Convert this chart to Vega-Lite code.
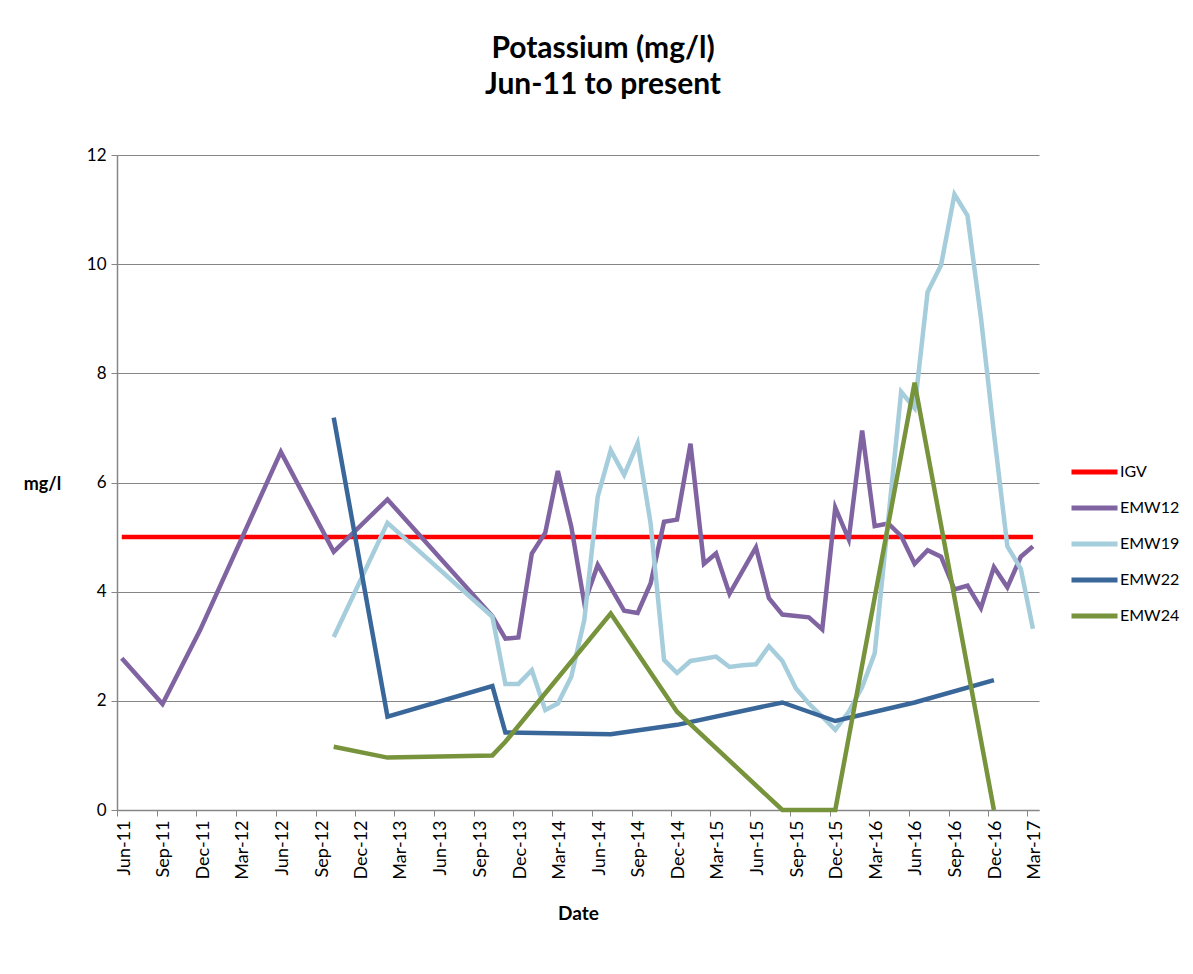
{
  "$schema": "https://vega.github.io/schema/vega-lite/v6.json",
  "width": 922,
  "height": 655,
  "autosize": "none",
  "padding": {"left": 117, "top": 155, "right": 154, "bottom": 164},
  "background": "white",
  "title": {
    "text": ["Potassium (mg/l)", "Jun-11 to present"],
    "font": "Lato",
    "fontSize": 30,
    "fontWeight": "bold",
    "color": "#000000",
    "anchor": "middle",
    "dx": 25,
    "offset": 46,
    "lineHeight": 36
  },
  "config": {
    "view": {"stroke": null},
    "axis": {"labelFont": "Lato", "titleFont": "Lato", "labelColor": "#000000", "titleColor": "#000000"}
  },
  "data": {
    "values": [
      {"series": "IGV", "date": "2011-06-12T00:00:00", "value": 5},
      {"series": "IGV", "date": "2017-03-14T00:00:00", "value": 5},
      {"series": "EMW12", "date": "2011-06-12T00:00:00", "value": 2.78},
      {"series": "EMW12", "date": "2011-09-14T00:00:00", "value": 1.94},
      {"series": "EMW12", "date": "2011-12-10T00:00:00", "value": 3.30},
      {"series": "EMW12", "date": "2012-06-13T00:00:00", "value": 6.56},
      {"series": "EMW12", "date": "2012-10-13T00:00:00", "value": 4.73},
      {"series": "EMW12", "date": "2013-02-14T00:00:00", "value": 5.69},
      {"series": "EMW12", "date": "2013-10-14T00:00:00", "value": 3.55},
      {"series": "EMW12", "date": "2013-11-13T00:00:00", "value": 3.14},
      {"series": "EMW12", "date": "2013-12-13T00:00:00", "value": 3.16},
      {"series": "EMW12", "date": "2014-01-13T00:00:00", "value": 4.70},
      {"series": "EMW12", "date": "2014-02-13T00:00:00", "value": 5.08},
      {"series": "EMW12", "date": "2014-03-14T00:00:00", "value": 6.21},
      {"series": "EMW12", "date": "2014-04-14T00:00:00", "value": 5.19},
      {"series": "EMW12", "date": "2014-05-14T00:00:00", "value": 3.79},
      {"series": "EMW12", "date": "2014-06-14T00:00:00", "value": 4.49},
      {"series": "EMW12", "date": "2014-08-14T00:00:00", "value": 3.65},
      {"series": "EMW12", "date": "2014-09-14T00:00:00", "value": 3.61},
      {"series": "EMW12", "date": "2014-10-14T00:00:00", "value": 4.15},
      {"series": "EMW12", "date": "2014-11-14T00:00:00", "value": 5.28},
      {"series": "EMW12", "date": "2014-12-14T00:00:00", "value": 5.32},
      {"series": "EMW12", "date": "2015-01-14T00:00:00", "value": 6.71},
      {"series": "EMW12", "date": "2015-02-14T00:00:00", "value": 4.51},
      {"series": "EMW12", "date": "2015-03-14T00:00:00", "value": 4.70},
      {"series": "EMW12", "date": "2015-04-14T00:00:00", "value": 3.96},
      {"series": "EMW12", "date": "2015-06-14T00:00:00", "value": 4.81},
      {"series": "EMW12", "date": "2015-07-14T00:00:00", "value": 3.88},
      {"series": "EMW12", "date": "2015-08-14T00:00:00", "value": 3.58},
      {"series": "EMW12", "date": "2015-10-14T00:00:00", "value": 3.53},
      {"series": "EMW12", "date": "2015-11-14T00:00:00", "value": 3.31},
      {"series": "EMW12", "date": "2015-12-14T00:00:00", "value": 5.54},
      {"series": "EMW12", "date": "2016-01-14T00:00:00", "value": 4.96},
      {"series": "EMW12", "date": "2016-02-14T00:00:00", "value": 6.95},
      {"series": "EMW12", "date": "2016-03-14T00:00:00", "value": 5.20},
      {"series": "EMW12", "date": "2016-04-14T00:00:00", "value": 5.25},
      {"series": "EMW12", "date": "2016-05-14T00:00:00", "value": 5.02},
      {"series": "EMW12", "date": "2016-06-14T00:00:00", "value": 4.51},
      {"series": "EMW12", "date": "2016-07-14T00:00:00", "value": 4.76},
      {"series": "EMW12", "date": "2016-08-14T00:00:00", "value": 4.64},
      {"series": "EMW12", "date": "2016-09-14T00:00:00", "value": 4.04},
      {"series": "EMW12", "date": "2016-10-14T00:00:00", "value": 4.11},
      {"series": "EMW12", "date": "2016-11-14T00:00:00", "value": 3.70},
      {"series": "EMW12", "date": "2016-12-14T00:00:00", "value": 4.45},
      {"series": "EMW12", "date": "2017-01-14T00:00:00", "value": 4.08},
      {"series": "EMW12", "date": "2017-02-14T00:00:00", "value": 4.64},
      {"series": "EMW12", "date": "2017-03-14T00:00:00", "value": 4.83},
      {"series": "EMW19", "date": "2012-10-13T00:00:00", "value": 3.17},
      {"series": "EMW19", "date": "2013-02-14T00:00:00", "value": 5.26},
      {"series": "EMW19", "date": "2013-10-14T00:00:00", "value": 3.54},
      {"series": "EMW19", "date": "2013-11-13T00:00:00", "value": 2.31},
      {"series": "EMW19", "date": "2013-12-13T00:00:00", "value": 2.31},
      {"series": "EMW19", "date": "2014-01-13T00:00:00", "value": 2.56},
      {"series": "EMW19", "date": "2014-02-13T00:00:00", "value": 1.83},
      {"series": "EMW19", "date": "2014-03-14T00:00:00", "value": 1.95},
      {"series": "EMW19", "date": "2014-04-14T00:00:00", "value": 2.44},
      {"series": "EMW19", "date": "2014-05-14T00:00:00", "value": 3.48},
      {"series": "EMW19", "date": "2014-06-14T00:00:00", "value": 5.74},
      {"series": "EMW19", "date": "2014-07-14T00:00:00", "value": 6.59},
      {"series": "EMW19", "date": "2014-08-14T00:00:00", "value": 6.14},
      {"series": "EMW19", "date": "2014-09-14T00:00:00", "value": 6.72},
      {"series": "EMW19", "date": "2014-10-14T00:00:00", "value": 5.25},
      {"series": "EMW19", "date": "2014-11-14T00:00:00", "value": 2.75},
      {"series": "EMW19", "date": "2014-12-14T00:00:00", "value": 2.51},
      {"series": "EMW19", "date": "2015-01-14T00:00:00", "value": 2.73},
      {"series": "EMW19", "date": "2015-02-14T00:00:00", "value": 2.77},
      {"series": "EMW19", "date": "2015-03-14T00:00:00", "value": 2.81},
      {"series": "EMW19", "date": "2015-04-14T00:00:00", "value": 2.62},
      {"series": "EMW19", "date": "2015-05-14T00:00:00", "value": 2.65},
      {"series": "EMW19", "date": "2015-06-14T00:00:00", "value": 2.67},
      {"series": "EMW19", "date": "2015-07-14T00:00:00", "value": 3.00},
      {"series": "EMW19", "date": "2015-08-14T00:00:00", "value": 2.73},
      {"series": "EMW19", "date": "2015-09-14T00:00:00", "value": 2.23},
      {"series": "EMW19", "date": "2015-10-14T00:00:00", "value": 1.95},
      {"series": "EMW19", "date": "2015-11-14T00:00:00", "value": 1.71},
      {"series": "EMW19", "date": "2015-12-14T00:00:00", "value": 1.47},
      {"series": "EMW19", "date": "2016-01-14T00:00:00", "value": 1.80},
      {"series": "EMW19", "date": "2016-02-14T00:00:00", "value": 2.25},
      {"series": "EMW19", "date": "2016-03-14T00:00:00", "value": 2.87},
      {"series": "EMW19", "date": "2016-05-14T00:00:00", "value": 7.66},
      {"series": "EMW19", "date": "2016-06-14T00:00:00", "value": 7.36},
      {"series": "EMW19", "date": "2016-07-14T00:00:00", "value": 9.49},
      {"series": "EMW19", "date": "2016-08-14T00:00:00", "value": 9.98},
      {"series": "EMW19", "date": "2016-09-14T00:00:00", "value": 11.28},
      {"series": "EMW19", "date": "2016-10-14T00:00:00", "value": 10.89},
      {"series": "EMW19", "date": "2016-11-14T00:00:00", "value": 9.02},
      {"series": "EMW19", "date": "2016-12-14T00:00:00", "value": 6.91},
      {"series": "EMW19", "date": "2017-01-14T00:00:00", "value": 4.83},
      {"series": "EMW19", "date": "2017-02-14T00:00:00", "value": 4.42},
      {"series": "EMW19", "date": "2017-03-14T00:00:00", "value": 3.32},
      {"series": "EMW22", "date": "2012-10-13T00:00:00", "value": 7.19},
      {"series": "EMW22", "date": "2013-02-14T00:00:00", "value": 1.71},
      {"series": "EMW22", "date": "2013-10-14T00:00:00", "value": 2.27},
      {"series": "EMW22", "date": "2013-11-13T00:00:00", "value": 1.42},
      {"series": "EMW22", "date": "2014-07-14T00:00:00", "value": 1.39},
      {"series": "EMW22", "date": "2014-12-14T00:00:00", "value": 1.56},
      {"series": "EMW22", "date": "2015-08-14T00:00:00", "value": 1.97},
      {"series": "EMW22", "date": "2015-12-14T00:00:00", "value": 1.63},
      {"series": "EMW22", "date": "2016-06-14T00:00:00", "value": 1.97},
      {"series": "EMW22", "date": "2016-12-14T00:00:00", "value": 2.38},
      {"series": "EMW24", "date": "2012-10-13T00:00:00", "value": 1.16},
      {"series": "EMW24", "date": "2013-02-14T00:00:00", "value": 0.96},
      {"series": "EMW24", "date": "2013-10-14T00:00:00", "value": 1.00},
      {"series": "EMW24", "date": "2013-11-13T00:00:00", "value": 1.25},
      {"series": "EMW24", "date": "2014-07-14T00:00:00", "value": 3.60},
      {"series": "EMW24", "date": "2014-12-14T00:00:00", "value": 1.80},
      {"series": "EMW24", "date": "2015-08-14T00:00:00", "value": 0.00},
      {"series": "EMW24", "date": "2015-12-14T00:00:00", "value": 0.00},
      {"series": "EMW24", "date": "2016-06-14T00:00:00", "value": 7.83},
      {"series": "EMW24", "date": "2016-12-14T00:00:00", "value": 0.00}
    ]
  },
  "mark": {"type": "line", "strokeWidth": 4.5},
  "encoding": {
    "x": {
      "field": "date",
      "type": "temporal",
      "scale": {"domain": [{"year": 2011, "month": 6, "date": 1}, {"year": 2017, "month": 3, "date": 28}]},
      "axis": {
        "title": "Date",
        "titleFontSize": 19,
        "titleFontWeight": "bold",
        "titleY": 103,
        "titleBaseline": "middle",
        "values": [
          {"year": 2011, "month": 6, "date": 1}, {"year": 2011, "month": 9, "date": 1}, {"year": 2011, "month": 12, "date": 1},
          {"year": 2012, "month": 3, "date": 1}, {"year": 2012, "month": 6, "date": 1}, {"year": 2012, "month": 9, "date": 1}, {"year": 2012, "month": 12, "date": 1},
          {"year": 2013, "month": 3, "date": 1}, {"year": 2013, "month": 6, "date": 1}, {"year": 2013, "month": 9, "date": 1}, {"year": 2013, "month": 12, "date": 1},
          {"year": 2014, "month": 3, "date": 1}, {"year": 2014, "month": 6, "date": 1}, {"year": 2014, "month": 9, "date": 1}, {"year": 2014, "month": 12, "date": 1},
          {"year": 2015, "month": 3, "date": 1}, {"year": 2015, "month": 6, "date": 1}, {"year": 2015, "month": 9, "date": 1}, {"year": 2015, "month": 12, "date": 1},
          {"year": 2016, "month": 3, "date": 1}, {"year": 2016, "month": 6, "date": 1}, {"year": 2016, "month": 9, "date": 1}, {"year": 2016, "month": 12, "date": 1},
          {"year": 2017, "month": 3, "date": 1}
        ],
        "format": "%b-%y",
        "labelAngle": 270,
        "labelFontSize": 18,
        "labelPadding": 4,
        "labelOffset": 7,
        "labelOverlap": false,
        "tickSize": 6,
        "tickColor": "#868686",
        "domainColor": "#868686",
        "domainWidth": 1.5,
        "grid": false
      }
    },
    "y": {
      "field": "value",
      "type": "quantitative",
      "scale": {"domain": [0, 12]},
      "axis": {
        "title": "mg/l",
        "titleAngle": 0,
        "titleX": -75,
        "titleY": 329,
        "titleAlign": "center",
        "titleBaseline": "middle",
        "titleFontSize": 18,
        "titleFontWeight": "bold",
        "values": [0, 2, 4, 6, 8, 10, 12],
        "labelFontSize": 17,
        "labelPadding": 5,
        "tickSize": 6,
        "tickColor": "#868686",
        "domainColor": "#868686",
        "domainWidth": 1.5,
        "grid": true,
        "gridColor": "#868686",
        "gridWidth": 1.2
      }
    },
    "color": {
      "field": "series",
      "type": "nominal",
      "scale": {
        "domain": ["IGV", "EMW12", "EMW19", "EMW22", "EMW24"],
        "range": ["#FF0000", "#8064A2", "#A5CDDB", "#3A679A", "#77933C"]
      },
      "legend": {
        "title": null,
        "orient": "none",
        "legendX": 952,
        "legendY": 291.5,
        "symbolType": "stroke",
        "symbolSize": 2116,
        "symbolStrokeWidth": 5,
        "labelFont": "Lato",
        "labelFontSize": 16,
        "labelColor": "#000000",
        "labelOffset": 0,
        "rowPadding": -2
      }
    },
    "strokeWidth": {
      "condition": {"test": "datum.series === 'IGV'", "value": 5.5},
      "value": 4.5
    }
  }
}
